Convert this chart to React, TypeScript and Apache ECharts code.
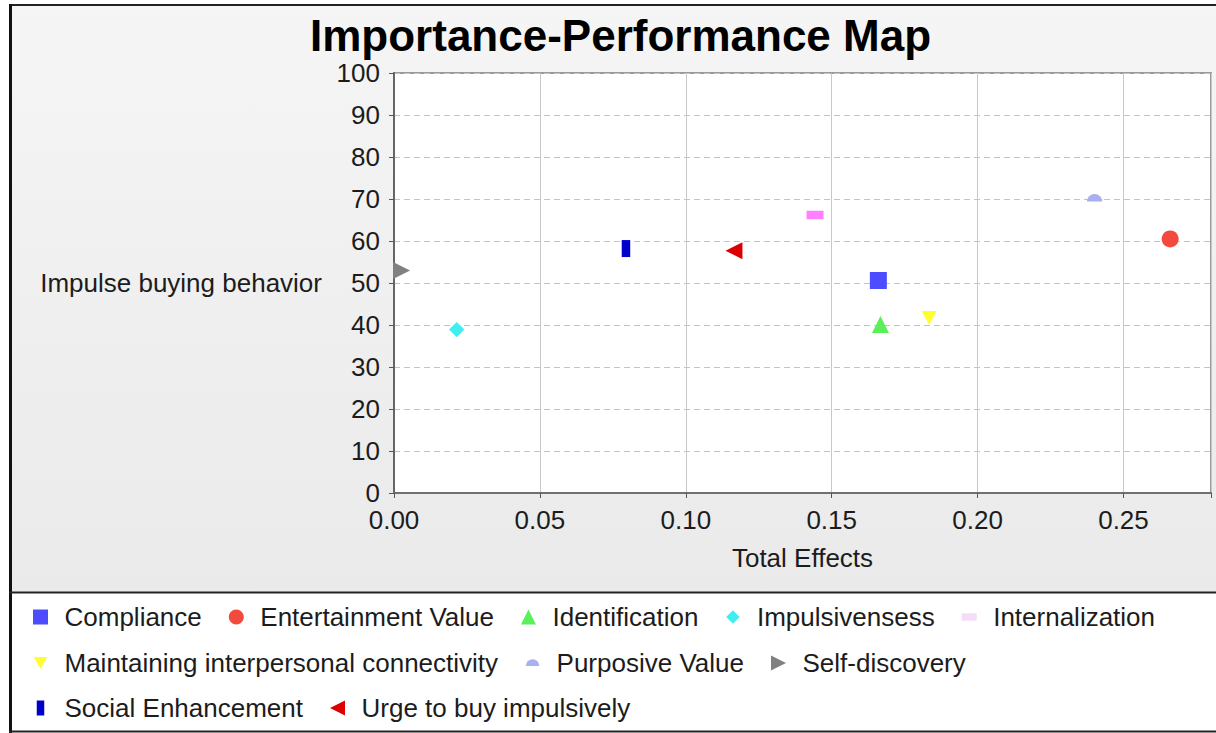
import React, { useEffect, useRef } from "react";
import * as echarts from "echarts";

const categories = [
  "Compliance",
  "Entertainment Value",
  "Identification",
  "Impulsivensess",
  "Internalization",
  "Maintaining interpersonal connectivity",
  "Purposive Value",
  "Self-discovery",
  "Social Enhancement",
  "Urge to buy impulsively",
];
const totalEffects = [0.166, 0.266, 0.1667, 0.0215, 0.1443, 0.1834, 0.2401, 0.0026, 0.0795, 0.1165];
const performance = [50.6, 60.5, 40.1, 38.9, 66.2, 41.7, 70.2, 53.0, 58.2, 57.7];

const legendRows = [
  ["Compliance", "Entertainment Value", "Identification", "Impulsivensess", "Internalization"],
  ["Maintaining interpersonal connectivity", "Purposive Value", "Self-discovery"],
  ["Social Enhancement", "Urge to buy impulsively"],
];

const PAD = "M0 0 M20 20 ";
const symbols = [
  "path://M0 0 L20 0 L20 20 L0 20 Z",
  "circle",
  "path://M10 0 L20 20 L0 20 Z",
  "path://" + PAD + "M10 1 L19 10 L10 19 L1 10 Z",
  "path://" + PAD + "M0 5 L20 5 L20 15 L0 15 Z",
  "path://" + PAD + "M1 2 L19 2 L10 18 Z",
  "path://" + PAD + "M1 14 A9 9 0 0 1 19 14 Z",
  "path://M0 0 L20 10 L0 20 Z",
  "path://" + PAD + "M5 0 L15 0 L15 20 L5 20 Z",
  "path://M20 0 L0 10 L20 20 Z",
];
const colors = ["#4d4dff", "#f24a3c", "#5af05a", "#40eef0", "#ff80ff", "#ffff30", "#a8b0f0", "#808080", "#0000cc", "#dd0000"];
const legendColors = ["#4d4dff", "#f24a3c", "#5af05a", "#40eef0", "#f6dcf6", "#ffff30", "#a8b0f0", "#808080", "#0000cc", "#dd0000"];

const FONT = "'Liberation Sans', Arial, sans-serif";
const TXT = "#1c1c1c";

export default function App() {
  const ref = useRef<HTMLDivElement>(null);
  useEffect(() => {
    if (!ref.current) return;
    const chart = echarts.init(ref.current, null, { renderer: "svg" });
    const legendTops = [604, 650, 695];
    const option: any = {
      animation: false,
      backgroundColor: "#ffffff",
      textStyle: { fontFamily: FONT },
      title: {
        text: "Importance-Performance Map",
        left: 305,
        top: 8,
        textStyle: { fontSize: 44, fontWeight: "bold", color: "#000", fontFamily: FONT },
      },
      graphic: [
        {
          type: "rect",
          shape: { x: 11, y: 6, width: 1205, height: 586 },
          style: {
            fill: new echarts.graphic.LinearGradient(0, 0, 0, 1, [
              { offset: 0, color: "#f5f5f5" },
              { offset: 1, color: "#eaeaea" },
            ]),
          },
          z: -10,
        },
        { type: "line", shape: { x1: 9, y1: 5, x2: 1216, y2: 5 }, style: { stroke: "#222", lineWidth: 2 }, z: 10 },
        { type: "line", shape: { x1: 10.5, y1: 4, x2: 10.5, y2: 733 }, style: { stroke: "#111", lineWidth: 3 }, z: 10 },
        { type: "line", shape: { x1: 9, y1: 592.5, x2: 1216, y2: 592.5 }, style: { stroke: "#222", lineWidth: 2 }, z: 10 },
        { type: "line", shape: { x1: 9, y1: 731.5, x2: 1216, y2: 731.5 }, style: { stroke: "#222", lineWidth: 2 }, z: 10 },
      ],
      grid: {
        left: 394,
        right: 5,
        top: 73,
        bottom: 240,
        show: true,
        backgroundColor: "#ffffff",
        borderColor: "#9a9a9a",
        borderWidth: 2,
      },
      xAxis: {
        type: "value",
        min: 0,
        max: 0.28,
        interval: 0.05,
        name: "Total Effects",
        nameLocation: "middle",
        nameGap: 52,
        nameTextStyle: { fontSize: 26, color: TXT, fontFamily: FONT },
        axisLine: { show: true, onZero: false, lineStyle: { color: "#707070", width: 2 } },
        axisTick: { show: true, length: 5, lineStyle: { color: "#555" } },
        axisLabel: {
          fontSize: 26,
          color: TXT,
          margin: 14,
          fontFamily: FONT,
          formatter: (v: number) => (Math.abs(v / 0.05 - Math.round(v / 0.05)) < 1e-6 ? v.toFixed(2) : ""),
        },
        splitLine: { show: true, lineStyle: { color: "#c8c8c8", width: 1, type: "solid" } },
      },
      yAxis: {
        type: "value",
        min: 0,
        max: 100,
        interval: 10,
        name: "Impulse buying behavior",
        nameLocation: "middle",
        nameRotate: 0,
        nameGap: 72,
        nameTextStyle: { fontSize: 26, color: TXT, fontFamily: FONT },
        axisLine: { show: true, onZero: false, lineStyle: { color: "#666", width: 2 } },
        axisTick: { show: true, length: 5, lineStyle: { color: "#555" } },
        axisLabel: { fontSize: 26, color: TXT, margin: 14, fontFamily: FONT },
        splitLine: { show: true, lineStyle: { color: "#c4c4c4", width: 1, type: [6, 4] } },
      },
      legend: legendRows.map((row, r) => ({
        orient: "horizontal",
        left: 33,
        top: legendTops[r],
        padding: 0,
        itemWidth: 38,
        itemHeight: 15,
        itemGap: 27,
        selectedMode: false,
        textStyle: { fontSize: 26, color: TXT, fontFamily: FONT },
        data: row.map((name) => {
          const i = categories.indexOf(name);
          return { name, icon: symbols[i], itemStyle: { color: legendColors[i] } };
        }),
      })),
      series: categories.map((name, i) => ({
        type: "scatter",
        name,
        data: [[totalEffects[i], performance[i]]],
        symbol: symbols[i],
        symbolSize: 17,
        clip: false,
        itemStyle: { color: colors[i], opacity: 1 },
        emphasis: { disabled: true },
        z: 5,
      })),
    };
    chart.setOption(option);
    return () => chart.dispose();
  }, []);
  return (
    <div
      ref={ref}
      style={{ position: "absolute", left: 0, top: 0, width: 1216, height: 733 }}
    />
  );
}
